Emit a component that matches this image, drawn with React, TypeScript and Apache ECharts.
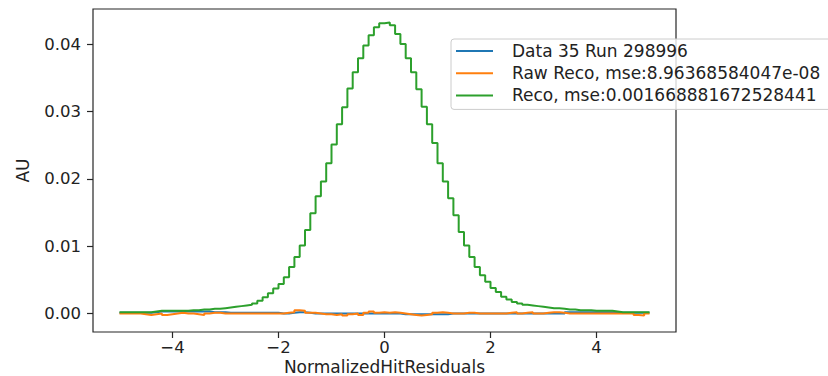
import React, { useEffect, useRef } from 'react';
import * as echarts from 'echarts';

const BIN_START = -5;
const BIN_WIDTH = 0.1;

const seriesNames = [
  'Data 35 Run 298996',
  'Raw Reco, mse:8.96368584047e-08',
  'Reco, mse:0.001668881672528441',
];
const seriesColors = ['#1f77b4', '#ff7f0e', '#2ca02c'];

// bin contents, bins of width 0.1 from -5 to 5
const dataValues = [
  0.0001, 0.0001, 0.0001, 0.0001, 0.0001, 0.0001, 0.0002, 0.0003, 0.0003, 0.0003,
  0.0003, 0.0003, 0.0003, 0.0003, 0.0003, 0.0003, 0.0003, 0.0002, 0.0002, 0.0002,
  0.0001, 0.0001, 0.0001, 0.0001, 0.0001, 0.0001, 0.0001, 0.0001, 0.0001, 0.0001,
  0.0, 0.0, 0.0001, 0.0002, 0.0002, 0.0001, 0.0, 0.0, 0.0, 0.0,
  0.0, 0.0, 0.0, 0.0, 0.0, 0.0, 0.0, 0.0, 0.0, 0.0,
  0.0, 0.0, 0.0, -0.0001, -0.0001, -0.0001, -0.0001, -0.0001, -0.0001, -0.0001,
  -0.0001, -0.0001, 0.0, 0.0, 0.0, 0.0, 0.0, 0.0, 0.0, 0.0,
  0.0, 0.0, 0.0, 0.0, 0.0, 0.0, 0.0, 0.0, 0.0, 0.0,
  0.0, 0.0, 0.0, 0.0, 0.0002, 0.0002, 0.0002, 0.0002, 0.0002, 0.0002,
  0.0002, 0.0002, 0.0002, 0.0001, 0.0001, 0.0001, 0.0001, 0.0001, 0.0001, 0.0001,
];

const rawRecoValues = [
  0.0, 0.0, 0.0, 0.0, -0.0001, -0.0002, -0.0001, 0.0, -0.0002, -0.0001,
  0.0, 0.0001, 0.0, 0.0, -0.0001, -0.0002, 0.0, 0.0001, 0.0001, 0.0,
  0.0, 0.0, 0.0, 0.0, 0.0, 0.0, 0.0, 0.0, 0.0, 0.0,
  0.0, 0.0001, 0.0002, 0.0005, 0.0004, 0.0001, 0.0001, 0.0, -0.0001, -0.0001,
  -0.0002, -0.0001, -0.0003, -0.0001, 0.0, -0.0002, 0.0001, 0.0003, 0.0001, 0.0002,
  0.0001, 0.0002, 0.0001, 0.0, -0.0001, -0.0002, -0.0003, -0.0002, -0.0001, 0.0001,
  0.0002, 0.0001, 0.0, 0.0, 0.0, 0.0001, 0.0001, 0.0, 0.0, 0.0,
  0.0, 0.0, 0.0, 0.0001, 0.0002, 0.0, 0.0001, 0.0002, 0.0, 0.0,
  0.0001, 0.0002, 0.0002, 0.0001, 0.0, 0.0, 0.0, 0.0, 0.0, 0.0,
  0.0, 0.0, 0.0, 0.0, 0.0, 0.0, 0.0, -0.0002, -0.0003, 0.0,
];

const recoValues = [
  0.0002, 0.0002, 0.0002, 0.0002, 0.0002, 0.0002, 0.0003, 0.0004, 0.0004, 0.0004,
  0.0004, 0.0004, 0.0004, 0.0005, 0.0005, 0.0006, 0.0006, 0.0007, 0.0007, 0.0008,
  0.0009, 0.0010, 0.0011, 0.0012, 0.0013, 0.0015, 0.0019, 0.0024, 0.0030, 0.0037,
  0.0044, 0.0054, 0.0069, 0.0084, 0.0101, 0.0124, 0.0149, 0.0174, 0.0196, 0.0223,
  0.0251, 0.0281, 0.0306, 0.0334, 0.0358, 0.0379, 0.0398, 0.0413, 0.0425, 0.0431,
  0.0432, 0.0428, 0.0415, 0.0400, 0.0379, 0.0358, 0.0333, 0.0307, 0.0281, 0.0253,
  0.0223, 0.0196, 0.0171, 0.0146, 0.0121, 0.0101, 0.0084, 0.0069, 0.0057, 0.0047,
  0.0038, 0.0032, 0.0025, 0.0021, 0.0017, 0.0015, 0.0013, 0.0012, 0.0011, 0.0010,
  0.0009, 0.0008, 0.0008, 0.0007, 0.0006, 0.0006, 0.0005, 0.0005, 0.0005, 0.0004,
  0.0004, 0.0004, 0.0004, 0.0003, 0.0002, 0.0002, 0.0002, 0.0002, 0.0002, 0.0002,
];

const xTicks = [-4, -2, 0, 2, 4];
const yTicks = [0, 0.01, 0.02, 0.03, 0.04];

const FONT = 'DejaVu Sans';
const TEXT = '#222222';

function toSteps(values: number[]): number[][] {
  const pts = values.map((v, i) => [+(BIN_START + i * BIN_WIDTH).toFixed(2), v]);
  pts.push([+(BIN_START + values.length * BIN_WIDTH).toFixed(2), values[values.length - 1]]);
  return pts;
}

export default function App() {
  const ref = useRef<HTMLDivElement>(null);
  useEffect(() => {
    if (!ref.current) return;
    const chart = echarts.init(ref.current, undefined, { renderer: 'svg' });
    const all = [dataValues, rawRecoValues, recoValues];
    chart.setOption({
      animation: false,
      backgroundColor: '#ffffff',
      grid: {
        left: 93,
        right: 152,
        top: 9,
        bottom: 44,
        show: true,
        borderColor: '#262626',
        borderWidth: 1.2,
        backgroundColor: 'transparent',
        containLabel: false,
        outerBoundsMode: 'none',
      },
      legend: {
        orient: 'vertical',
        left: 451,
        top: 39,
        icon: 'rect',
        itemWidth: 37,
        itemHeight: 2,
        itemGap: 0.2,
        padding: [1, 40, 3, 5],
        backgroundColor: 'rgba(255,255,255,0.8)',
        borderColor: '#cccccc',
        borderWidth: 1,
        borderRadius: 3,
        selectedMode: false,
        textStyle: {
          fontFamily: FONT,
          fontSize: 17,
          color: TEXT,
          lineHeight: 22,
          padding: [0, 0, 0, 14],
        },
        data: seriesNames,
      },
      xAxis: {
        type: 'value',
        min: -5.5,
        max: 5.5,
        name: 'NormalizedHitResiduals',
        nameLocation: 'middle',
        nameGap: 26,
        nameMoveOverlap: false,
        nameTextStyle: { fontFamily: FONT, fontSize: 17, color: TEXT, lineHeight: 17 },
        splitLine: { show: false },
        axisLine: { show: false, onZero: false },
        axisTick: {
          show: true,
          length: 6,
          customValues: xTicks,
          lineStyle: { color: '#262626', width: 1.2 },
        },
        axisLabel: {
          customValues: xTicks,
          margin: 7,
          fontFamily: FONT,
          fontSize: 16.5,
          lineHeight: 17,
          color: TEXT,
          formatter: (v: number) => (v < 0 ? '\u2212' + Math.abs(v) : String(v)),
        },
      },
      yAxis: {
        type: 'value',
        min: -0.00274,
        max: 0.0452,
        name: 'AU',
        nameLocation: 'middle',
        nameRotate: 90,
        nameGap: 62,
        nameMoveOverlap: false,
        nameTextStyle: { fontFamily: FONT, fontSize: 17, color: TEXT },
        splitLine: { show: false },
        axisLine: { show: false, onZero: false },
        axisTick: {
          show: true,
          length: 6,
          customValues: yTicks,
          lineStyle: { color: '#262626', width: 1.2 },
        },
        axisLabel: {
          customValues: yTicks,
          margin: 12,
          fontFamily: FONT,
          fontSize: 16.5,
          color: TEXT,
          formatter: (v: number) => v.toFixed(2),
        },
      },
      series: seriesNames.map((name, i) => ({
        name,
        type: 'line',
        step: 'end',
        showSymbol: false,
        symbol: 'none',
        color: seriesColors[i],
        lineStyle: { color: seriesColors[i], width: 2 },
        data: toSteps(all[i]),
        z: 2 + i,
      })),
    });
    return () => chart.dispose();
  }, []);
  return (
    <div
      ref={ref}
      style={{ position: 'fixed', left: 0, top: 0, width: 828, height: 376 }}
    />
  );
}
